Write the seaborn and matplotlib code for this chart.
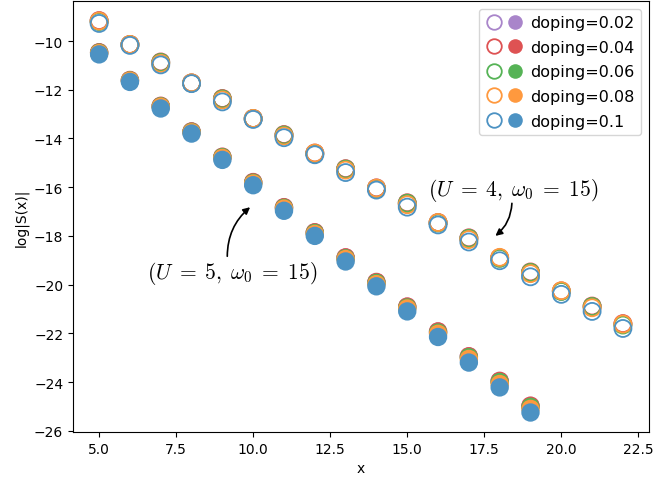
import numpy as np
import matplotlib
matplotlib.use("Agg")
import matplotlib.pyplot as plt
import seaborn as sns
from matplotlib.lines import Line2D
from matplotlib.legend_handler import HandlerTuple

plt.rcParams["mathtext.fontset"] = "cm"

DOPINGS = [0.02, 0.04, 0.06, 0.08, 0.1]
# tab10 colours, lightened
COLORS = ["#a985ca", "#de5253", "#56b356", "#ff993e", "#4c92c3"]

# U = 4, omega0 = 15 (open circles)
X_U4 = [5, 6, 7, 8, 9, 10, 11, 12, 13, 14, 15, 16, 17, 18, 19, 20, 21, 22]
LOGS_U4 = {
    0.02: [-9.18, -10.15, -10.88, -11.73, -12.38, -13.19, -13.86, -14.61, -15.26,
           -16.04, -16.66, -17.46, -18.10, -18.91, -19.50, -20.27, -20.90, -21.62],
    0.04: [-9.16, -10.14, -10.86, -11.72, -12.36, -13.18, -13.84, -14.60, -15.24,
           -16.03, -16.64, -17.45, -18.08, -18.90, -19.48, -20.26, -20.88, -21.60],
    0.06: [-9.20, -10.15, -10.88, -11.73, -12.38, -13.19, -13.86, -14.62, -15.26,
           -16.05, -16.66, -17.47, -18.10, -18.92, -19.50, -20.28, -20.90, -21.66],
    0.08: [-9.18, -10.14, -10.92, -11.72, -12.42, -13.18, -13.90, -14.60, -15.30,
           -16.04, -16.72, -17.45, -18.15, -18.88, -19.55, -20.25, -20.95, -21.62],
    0.1: [-9.28, -10.18, -10.98, -11.75, -12.50, -13.22, -13.97, -14.67, -15.40,
          -16.12, -16.82, -17.55, -18.25, -19.02, -19.68, -20.40, -21.10, -21.80],
}

# U = 5, omega0 = 15 (filled circles)
X_U5 = [5, 6, 7, 8, 9, 10, 11, 12, 13, 14, 15, 16, 17, 18, 19]
LOGS_U5 = {
    0.02: [-10.47, -11.61, -12.67, -13.72, -14.76, -15.80, -16.83, -17.86,
           -18.89, -19.90, -20.91, -21.93, -22.95, -23.96, -24.98],
    0.04: [-10.46, -11.60, -12.66, -13.71, -14.75, -15.79, -16.82, -17.85,
           -18.88, -19.89, -20.90, -21.92, -22.94, -23.95, -24.97],
    0.06: [-10.48, -11.62, -12.68, -13.73, -14.77, -15.82, -16.85, -17.88,
           -18.92, -19.93, -20.94, -21.97, -22.98, -24.00, -25.02],
    0.08: [-10.50, -11.63, -12.70, -13.75, -14.80, -15.85, -16.88, -17.92,
           -18.95, -19.98, -20.98, -22.02, -23.05, -24.08, -25.10],
    0.1: [-10.55, -11.68, -12.77, -13.80, -14.88, -15.92, -16.97, -18.00,
          -19.05, -20.07, -21.10, -22.15, -23.20, -24.22, -25.25],
}

fig, ax = plt.subplots(figsize=(6.57, 4.85), dpi=100)

handles = []
labels = []
for doping, color in zip(DOPINGS, COLORS):
    sns.scatterplot(x=X_U4, y=LOGS_U4[doping], ax=ax, s=150, color=color,
                    facecolor="none", edgecolor=color, linewidth=1.3)
    sns.scatterplot(x=X_U5, y=LOGS_U5[doping], ax=ax, s=175, color=color,
                    edgecolor="none", linewidth=0)
    h_open = Line2D([], [], ls="", marker="o", ms=10.5, mfc="none", mec=color,
                    mew=1.3)
    h_fill = Line2D([], [], ls="", marker="o", ms=10.5, mfc=color, mec="none")
    handles.append((h_open, h_fill))
    labels.append(f"doping={doping}")

ax.legend(handles, labels, loc="upper right", fontsize=11.5,
          handler_map={tuple: HandlerTuple(ndivide=None, pad=0.2)},
          handlelength=2.4, handletextpad=0.4, labelspacing=0.6)

ax.text(18.44, -16.09, r"$(U\;=\;4,\;\omega_0\;=\;15)$", fontsize=15.5,
        ha="center", va="center")
ax.annotate("", xy=(17.79, -18.07), xytext=(18.4, -16.55),
            arrowprops=dict(arrowstyle="-|>", color="black", lw=1.2,
                            connectionstyle="arc3,rad=-0.25"))

ax.text(9.32, -19.5, r"$(U\;=\;5,\;\omega_0\;=\;15)$", fontsize=15.5,
        ha="center", va="center")
ax.annotate("", xy=(9.97, -16.75), xytext=(9.16, -18.95),
            arrowprops=dict(arrowstyle="-|>", color="black", lw=1.2,
                            connectionstyle="arc3,rad=-0.25"))

ax.set_xlabel("x")
ax.set_ylabel("log|S(x)|")

plt.subplots_adjust(left=0.111, right=0.988, top=0.996, bottom=0.107)
plt.savefig("out.png")
plt.close()
